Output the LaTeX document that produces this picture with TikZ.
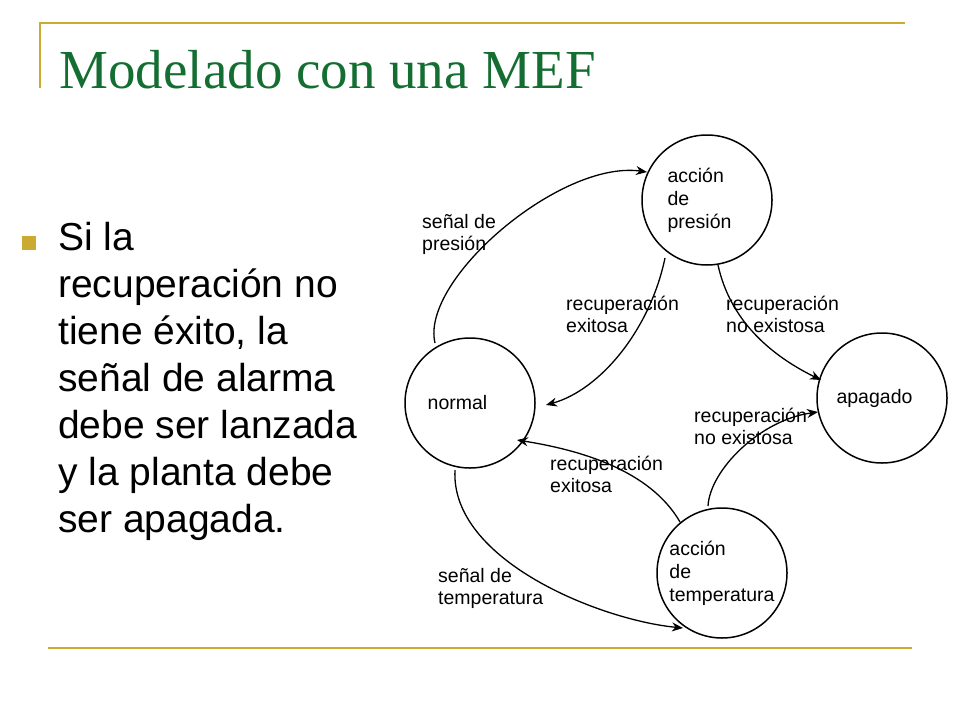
\documentclass[tikz,border=0pt]{standalone}
\usepackage{fontspec}
\setmainfont{Liberation Serif}
\newfontfamily\arialfont{Liberation Sans}
\usetikzlibrary{positioning}
\usetikzlibrary{arrows.meta}
\definecolor{gold}{RGB}{204,170,50}
\definecolor{titlegreen}{RGB}{20,110,50}
\tikzset{estado/.style={circle, draw, line width=1.5pt, minimum size=130pt, inner sep=0pt, align=left, font=\arialfont\fontsize{19.5}{23}\selectfont},
trans/.style={line width=1.3pt, -{Stealth[length=11pt,width=9pt]}},
etiq/.style={align=left, font=\arialfont\fontsize{19.5}{22}\selectfont, inner sep=0pt, anchor=north west}}
\begin{document}
\begin{tikzpicture}[x=1pt, y=-1pt]
				\useasboundingbox (0,0) rectangle (960,720);
				% marco
				\draw[gold, line width=1.5pt] (40,88) -- (40,23) -- (905,23);
				\draw[gold, line width=1.5pt] (48,648) -- (912,648);
				\node[anchor=west, text=titlegreen, font=\fontsize{55}{60}\selectfont] (titulo) at (56,70) {Modelado con una MEF};
				\fill[gold] (22,236) rectangle (36,250);
				\node[anchor=north west, align=left, inner sep=0pt, font=\arialfont\fontsize{39}{47}\selectfont] (texto) at (58,222)
					{Si la\\recuperación no\\tiene éxito, la\\señal de alarma\\debe ser lanzada\\y la planta debe\\ser apagada.};
				% estados
				\node[estado] (pres) at (707,200) {acción\\de\\presión\hspace*{15pt}};
				\node[estado] (normal) at (470,403) {normal\hspace*{25pt}};
				\node[estado] (apag) at (882,398) {apagado\hspace*{15pt}};
				\node[estado] (temp) at (722,573) {acción\\de\\temperatura};
				% transiciones
				\draw[trans] (435,343) .. controls (420,280) and (560,160) .. (647,172);
				\draw[trans] (665,258) .. controls (650,330) and (600,390) .. (546,405);
				\draw[trans] (718,265) .. controls (730,320) and (770,355) .. (821,380);
				\draw[trans] (708,506) .. controls (710,470) and (760,420) .. (818,412);
				\draw[trans] (680,522) .. controls (650,470) and (580,450) .. (517,440);
				\draw[trans] (455,470) .. controls (450,560) and (600,620) .. (683,628);
				% etiquetas
				\node[etiq] (l1) at (422,214) {señal de\\presión};
				\node[etiq] (l2) at (566,296) {recuperación\\exitosa};
				\node[etiq] (l3) at (726,296) {recuperación\\no existosa};
				\node[etiq] (l4) at (694,408) {recuperación\\no existosa};
				\node[etiq] (l5) at (550,456) {recuperación\\exitosa};
				\node[etiq] (l6) at (438,568) {señal de\\temperatura};
			\end{tikzpicture}
\end{document}
